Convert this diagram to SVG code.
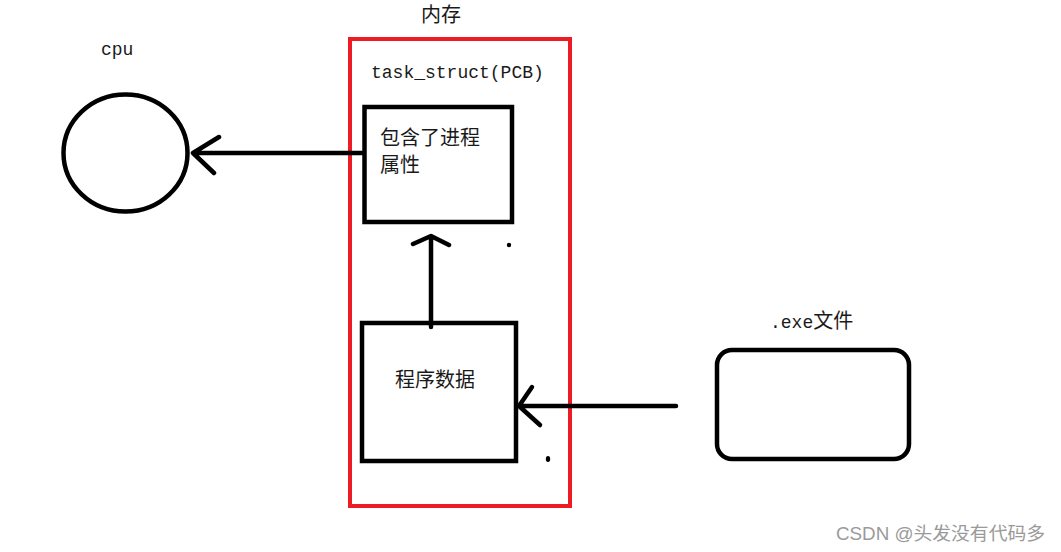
<svg xmlns="http://www.w3.org/2000/svg" width="1061" height="552" viewBox="0 0 1061 552">
<style>
.blk{fill:none;stroke:#000;stroke-width:4.5}
.red{fill:none;stroke:#ed1c24;stroke-width:4}
.con{fill:none;stroke:#000;stroke-width:4.5;stroke-linecap:round;stroke-linejoin:round}
.t{font-family:"Liberation Mono","Noto Sans CJK SC",monospace;font-size:18px;fill:#1a1a1a}
.c{font-family:"Noto Sans CJK SC",sans-serif;font-size:20px;fill:#1a1a1a}
.wm{font-family:"Liberation Sans","Noto Sans CJK SC",sans-serif;font-size:18px;fill:#9a9a9a}
</style>
<rect width="1061" height="552" fill="#fff"/>
<g id="memory">
<rect class="red" x="350" y="39" width="220" height="467"/>
<text class="c" x="421" y="22" font-size="19">内存</text>
<text class="t" x="371" y="78">task_struct(PCB)</text>
</g>
<g id="cpu">
<ellipse class="blk" cx="125.5" cy="153" rx="62" ry="58.5"/>
<text class="t" x="101" y="55">cpu</text>
</g>
<g id="pcb">
<rect class="blk" x="364.5" y="107" width="147.5" height="115"/>
<text class="c" x="380" y="145">包含了进程</text>
<text class="c" x="380" y="172">属性</text>
</g>
<g id="program-data">
<rect class="blk" x="362" y="323" width="154" height="138"/>
<text class="c" x="395" y="387">程序数据</text>
</g>
<g id="exe">
<rect class="blk" x="717" y="350" width="192" height="109" rx="15" ry="15"/>
<text class="t" x="770" y="328">.exe<tspan class="c">文件</tspan></text>
</g>
<g id="connectors">
<path class="con" d="M362 153 H193 M219 137 L193 153 L214 173"/>
<path class="con" d="M431 327 V237 M413 244 L431 236 L449 245"/>
<path class="con" d="M676 406 H519 M532 387 L519 406 L540 425"/>
</g>
<g id="dots">
<circle cx="509" cy="245" r="2.2" fill="#000"/>
<ellipse cx="548" cy="459" rx="2.2" ry="3" fill="#000"/>
</g>
<text class="wm" x="836" y="540" textLength="209" lengthAdjust="spacingAndGlyphs">CSDN @头发没有代码多</text>
</svg>
